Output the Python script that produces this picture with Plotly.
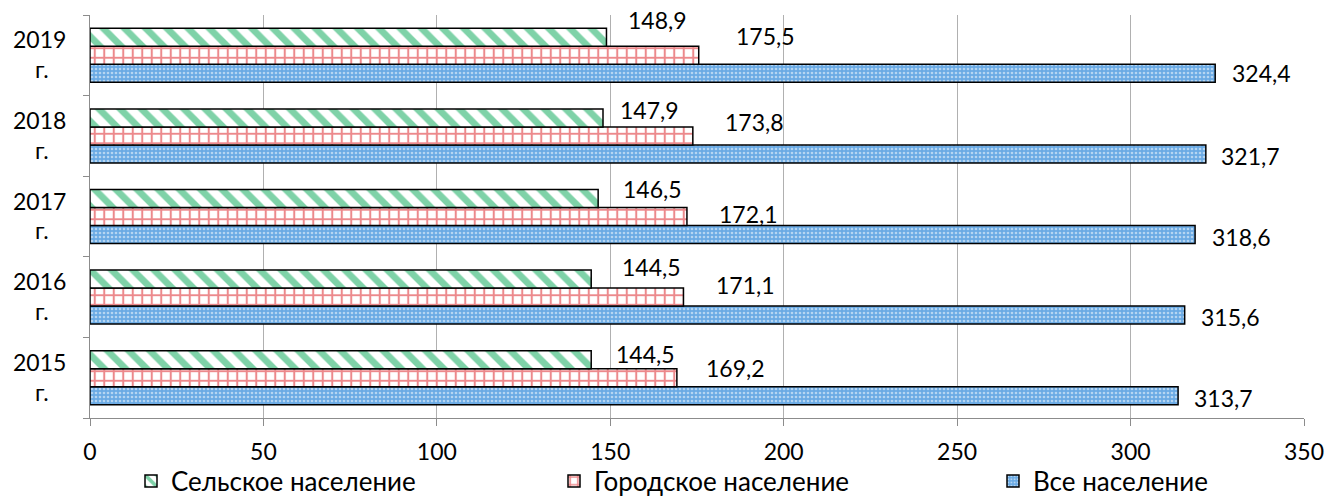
import plotly.graph_objects as go

categories = ["2015 г.", "2016 г.", "2017 г.", "2018 г.", "2019 г."]
tick_labels = ["2015<br>г.\u00a0\u00a0\u00a0", "2016<br>г.\u00a0\u00a0\u00a0", "2017<br>г.\u00a0\u00a0\u00a0",
               "2018<br>г.\u00a0\u00a0\u00a0", "2019<br>г.\u00a0\u00a0\u00a0"]
rural = [144.5, 144.5, 146.5, 147.9, 148.9]
urban = [169.2, 171.1, 172.1, 173.8, 175.5]
total = [313.7, 315.6, 318.6, 321.7, 324.4]
rural_labels = ["144,5", "144,5", "146,5", "147,9", "148,9"]
urban_labels = ["169,2", "171,1", "172,1", "173,8", "175,5"]
total_labels = ["313,7", "315,6", "318,6", "321,7", "324,4"]

# label pixel offsets (layout only)
rural_off = [(54, 24), (60, 30), (54, 28), (46, 26), (51, 35)]
urban_off = [(59, 10), (62, 12), (62, 3), (62, 14), (67, 19)]
total_off = [(45, -20), (46, -20), (46, -20), (45, -20), (46, -18)]

FONT = "Lato"
W, H = 1327, 497
fig = go.Figure()
line = dict(color="black", width=1.5)
fig.add_trace(go.Bar(
    y=categories, x=total, orientation="h", name="Все население", legend="legend3",
    marker=dict(color="#6aa9e3", line=line,
                pattern=dict(shape=".", fgcolor="white", bgcolor="#6aaae4", size=4, solidity=0.35)),
))
fig.add_trace(go.Bar(
    y=categories, x=urban, orientation="h", name="Городское население", legend="legend2",
    marker=dict(color="white", line=line,
                pattern=dict(shape="+", fgcolor="#d9141a", bgcolor="white", size=9.5, solidity=0.38)),
))
fig.add_trace(go.Bar(
    y=categories, x=rural, orientation="h", name="Сельское население", legend="legend",
    marker=dict(color="white", line=line,
                pattern=dict(shape="\\", fgcolor="#00a651", bgcolor="white", size=15, solidity=0.45)),
))

annotations = []
for vals, labs, offs in ((rural, rural_labels, rural_off), (urban, urban_labels, urban_off),
                         (total, total_labels, total_off)):
    for c, v, t, (dx, dy) in zip(categories, vals, labs, offs):
        annotations.append(dict(x=v, y=c, text=t, showarrow=False, xanchor="center", yanchor="middle",
                                xshift=dx, yshift=dy, font=dict(family=FONT, size=23, color="black")))

def leg(xpx):
    return dict(orientation="h", x=xpx / W, xref="container", xanchor="left",
                y=1 - 481 / H, yref="container", yanchor="middle",
                font=dict(family=FONT, size=26, color="black"), itemwidth=30,
                bgcolor="rgba(0,0,0,0)")

fig.update_layout(
    width=W, height=H,
    margin=dict(l=90, r=23, t=15, b=79, autoexpand=False),
    paper_bgcolor="white", plot_bgcolor="white",
    barmode="group", bargap=0.33, bargroupgap=0,
    font=dict(family=FONT, size=23, color="black"),
    annotations=annotations,
    showlegend=True,
    legend=leg(131), legend2=leg(554), legend3=leg(993),
    xaxis=dict(range=[0, 350], dtick=50, showgrid=True, gridcolor="#b0b0b0", gridwidth=1,
               showline=True, linecolor="#8c8c8c", linewidth=1, ticks="outside", ticklen=7,
               tickcolor="#8c8c8c", zeroline=False, ticklabelstandoff=6),
    yaxis=dict(categoryorder="array", categoryarray=categories, tickmode="array",
               range=[-0.5, 4.5], autorange=False,
               tickvals=categories, ticktext=tick_labels, showline=True, linecolor="#8c8c8c",
               linewidth=1, ticks="outside", ticklen=6, tickcolor="#8c8c8c", tickson="boundaries",
               showgrid=False, ticklabelstandoff=18),
)

fig.write_html("out.html", config={"displayModeBar": False},
               post_script="document.body.style.margin='0';document.body.style.overflow='hidden';")
